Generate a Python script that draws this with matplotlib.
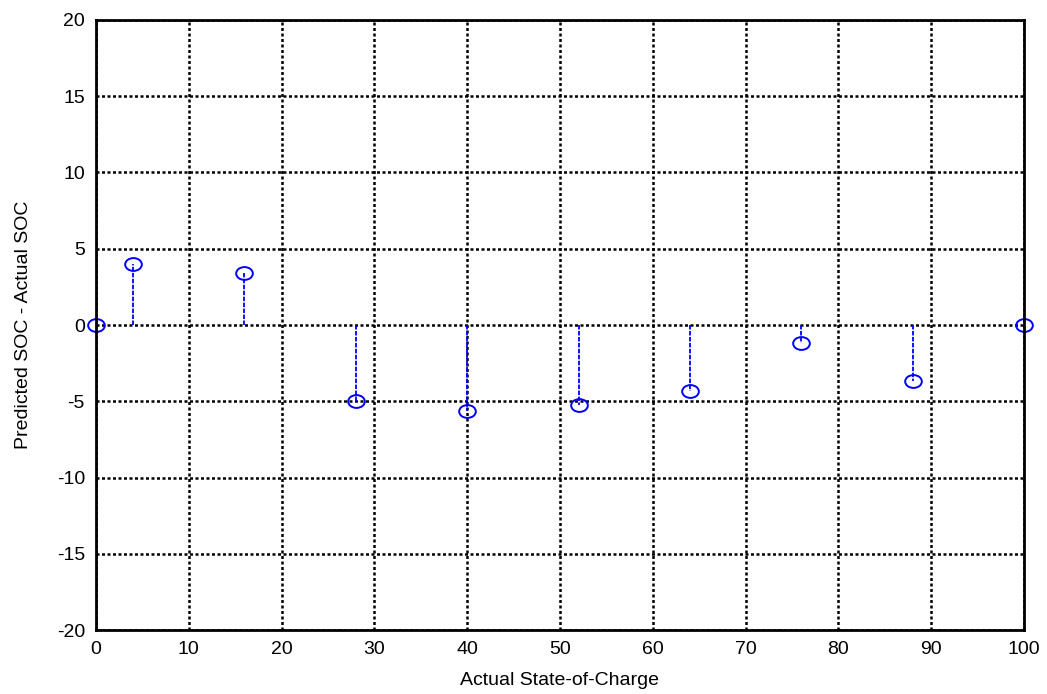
import numpy as np
import matplotlib.pyplot as plt
from matplotlib.path import Path

# data
soc_actual = [0, 4, 16, 28, 40, 52, 64, 76, 88, 100]
soc_error = [0.0, 4.0, 3.4, -5.0, -5.65, -5.25, -4.3, -1.15, -3.7, 0.0]

plt.rcParams['font.family'] = ['Liberation Sans', 'DejaVu Sans']
plt.rcParams['axes.unicode_minus'] = False

fig = plt.figure(figsize=(10.47, 6.94), dpi=100)
ax = fig.add_axes([0.0917, 0.0922, 0.8863, 0.879])

# slightly wide ellipse marker like the original
circ = Path.unit_circle()
ellipse = Path(circ.vertices * np.array([1.3, 1.0]), circ.codes)

markerline, stemlines, baseline = ax.stem(soc_actual, soc_error, basefmt=' ')
stemlines.set_color('blue')
stemlines.set_linestyle((0, (2.5, 0.8)))
stemlines.set_linewidth(1.3)
markerline.set_marker(ellipse)
markerline.set_markersize(12)
markerline.set_markerfacecolor('none')
markerline.set_markeredgecolor('blue')
markerline.set_markeredgewidth(1.4)
markerline.set_clip_on(False)

ax.set_xlim(0, 100)
ax.set_ylim(-20, 20)
ax.set_xticks(np.arange(0, 101, 10))
ax.set_yticks(np.arange(-20, 21, 5))
ax.grid(True, color='black', linestyle=(0, (1.2, 1.0)), linewidth=1.8)
ax.set_axisbelow(True)
ax.tick_params(length=0, labelsize=14, pad=8)

for s in ax.spines.values():
    s.set_linewidth(2)

ax.set_xlabel("Actual State-of-Charge", fontsize=14, labelpad=10)
ax.set_ylabel("Predicted SOC - Actual SOC", fontsize=14, labelpad=18)

fig.savefig("out.png", dpi=100)
